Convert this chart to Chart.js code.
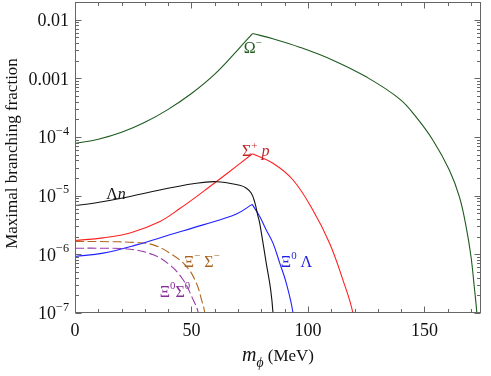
<!DOCTYPE html>
<html>
<head>
<meta charset="utf-8">
<title>Maximal branching fraction</title>
<script src="https://cdn.jsdelivr.net/npm/chart.js@4"></script>
<style>
  body { margin: 0; background: #fff; }
</style>
</head>
<body>
<canvas id="chart" width="491" height="376"></canvas>
<script>
// m_phi (MeV) and branching fraction
const omegaUpX = [0, 10, 20, 30, 40, 50, 60, 70, 76.2];
const omegaUpY = [7.78e-5, 9.14e-5, 1.2e-4, 1.78e-4, 2.96e-4, 5.51e-4, 1.18e-3, 3.1e-3, 5.8e-3];
const omegaDownX = [76.2, 85, 96.4, 110.7, 125, 139.3, 146.4, 153.6, 160.7, 165, 167.9, 170, 171.4, 172.5, 172.7];
const omegaDownY = [5.8e-3, 4.72e-3, 3.4e-3, 2.04e-3, 1.06e-3, 4.47e-4, 2.2e-4, 8.9e-5, 2.74e-5, 9.6e-6, 2.97e-6, 9.2e-7, 2.83e-7, 1e-7, 5e-8];

const lambdaNX = [0, 7.9, 22.1, 36.4, 50.7, 60.7, 70.7, 73.6, 75.7, 77.1, 78.6, 79.3, 82.1, 84, 85, 85.2];
const lambdaNY = [6.8e-6, 7.43e-6, 9.4e-6, 1.25e-5, 1.6e-5, 1.73e-5, 1.5e-5, 1.34e-5, 1.1e-5, 7.9e-6, 4.4e-6, 3.4e-6, 7.1e-7, 2.5e-7, 1e-7, 5e-8];

const sigmaPUpX = [0, 12, 24, 36, 45, 55, 65, 76.2];
const sigmaPUpY = [1.72e-6, 1.91e-6, 2.34e-6, 3.55e-6, 6.03e-6, 1.17e-5, 2.34e-5, 5.19e-5];
const sigmaPDownX = [76.2, 85, 93.6, 102.1, 109.3, 115, 119.3, 119.5];
const sigmaPDownY = [5.19e-5, 3.56e-5, 1.85e-5, 5.71e-6, 1.55e-6, 3.68e-7, 1e-7, 5e-8];

const xiLambdaUpX = [0, 12.1, 26.4, 40.7, 55, 69.3, 76.1];
const xiLambdaUpY = [9.2e-7, 1.05e-6, 1.45e-6, 2.15e-6, 3.18e-6, 4.89e-6, 7.1e-6];
const xiLambdaDownX = [76.1, 79.3, 82.1, 85, 87.9, 90.7, 93.6, 93.8];
const xiLambdaDownY = [7.1e-6, 4.4e-6, 2.61e-6, 1.55e-6, 7.1e-7, 3.24e-7, 1e-7, 5e-8];

const xiMSigmaMX = [0, 10.7, 26.4, 33.6, 40.7, 47.9, 52.1, 54.3, 55.7, 55.9];
const xiMSigmaMY = [1.65e-6, 1.65e-6, 1.59e-6, 1.45e-6, 1.05e-6, 6.2e-7, 3.24e-7, 1.69e-7, 1e-7, 5e-8];

const xi0Sigma0X = [0, 10.7, 23.6, 33.6, 40.7, 46.4, 50.7, 52.9, 53.1];
const xi0Sigma0Y = [1.27e-6, 1.27e-6, 1.22e-6, 9.8e-7, 6.6e-7, 3.68e-7, 1.69e-7, 1e-7, 5e-8];

// curve labels: parts ('^' superscript, '_' subscript, '*' italic), position in data units
const labelParts = [['Ω', '^−'], ['Σ', '^+', ' ', '*p'], ['Λ', '*n'], ['Ξ', '^0', ' Λ'], ['Ξ', '^−', ' Σ', '^−'], ['Ξ', '^0', 'Σ', '^0']];
const labelX = [76.3, 77.6, 17.6, 95.1, 54.4, 42.9];
const labelY = [3.4e-3, 5.97e-5, 1.11e-5, 7.76e-7, 7.76e-7, 2.4e-7];
const labelColors = ['#1e5a1e', '#c0282a', '#111', '#1f1fe0', '#a8641e', '#8a2a9a'];

const xTicks = [0, 50, 100, 150];
const yTicks = [1e-2, 1e-3, 1e-4, 1e-5, 1e-6, 1e-7];
const yTickLabels = [['0.01'], ['0.001'], ['10', '^−4'], ['10', '^−5'], ['10', '^−6'], ['10', '^−7']];

const serif = '"Liberation Serif", "Times New Roman", serif';

function pts(xs, ys) {
    return xs.map((x, i) => ({x: x, y: ys[i]}));
}

// draw text made of parts, returns width
function richText(ctx, parts, x, y, size, align, draw) {
    let w = 0;
    const pieces = parts.map(p => {
        let t = p, sup = false, sub = false, it = false;
        while (t.length > 1 && '^_*'.includes(t[0])) {
            if (t[0] === '^') sup = true;
            if (t[0] === '_') sub = true;
            if (t[0] === '*') it = true;
            t = t.slice(1);
        }
        const fs = (sup || sub) ? size * 0.68 : size;
        const font = (it ? 'italic ' : '') + fs + 'px ' + serif;
        ctx.font = font;
        const pw = ctx.measureText(t).width;
        w += pw;
        return {t, font, pw, dy: sup ? -size * 0.4 : (sub ? size * 0.3 : 0)};
    });
    if (draw === false) return w;
    let cx = align === 'right' ? x - w : (align === 'center' ? x - w / 2 : x);
    ctx.textAlign = 'left';
    pieces.forEach(p => {
        ctx.font = p.font;
        ctx.fillText(p.t, cx, y + p.dy);
        cx += p.pw;
    });
    return w;
}

const framePlugin = {
    id: 'frame',
    afterDraw(chart) {
        const ctx = chart.ctx;
        const a = chart.chartArea;
        const xs = chart.scales.x, ys = chart.scales.y;
        ctx.save();
        ctx.strokeStyle = '#666';
        ctx.lineWidth = 1;
        const L = Math.round(a.left) + 0.5, R = Math.round(a.right) - 0.5;
        const T = Math.round(a.top) + 0.5, B = Math.round(a.bottom) - 0.5;
        ctx.strokeRect(L, T, R - L, B - T);

        ctx.beginPath();
        for (let v = 0; v <= xs.max; v += 10) {
            const px = Math.round(xs.getPixelForValue(v)) + 0.5;
            const len = v % 50 === 0 ? 6 : 3.5;
            ctx.moveTo(px, B); ctx.lineTo(px, B - len);
            ctx.moveTo(px, T); ctx.lineTo(px, T + len);
        }
        for (let d = -7; d <= -2; d++) {
            for (let k = 1; k <= 9; k++) {
                const v = k * Math.pow(10, d);
                if (v > ys.max) break;
                const py = Math.round(ys.getPixelForValue(v)) + 0.5;
                const len = k === 1 ? 6 : 3.5;
                ctx.moveTo(L, py); ctx.lineTo(L + len, py);
                ctx.moveTo(R, py); ctx.lineTo(R - len, py);
            }
        }
        ctx.stroke();

        ctx.fillStyle = '#111';
        ctx.textBaseline = 'middle';
        yTicks.forEach((v, i) => {
            const py = ys.getPixelForValue(v);
            richText(ctx, yTickLabels[i], a.left - 6, py + 1.5, 18, 'right');
        });
        xTicks.forEach(v => {
            ctx.font = '18px ' + serif;
            ctx.textAlign = 'center';
            ctx.fillText(String(v), xs.getPixelForValue(v), a.bottom + 18);
        });

        // axis titles
        ctx.textBaseline = 'alphabetic';
        const xw = richText(ctx, ['*m', '_*ϕ'], 0, 0, 20, 'left', false) + richText(ctx, [' (MeV)'], 0, 0, 17, 'left', false);
        const x0 = (a.left + a.right) / 2 - xw / 2;
        const w1 = richText(ctx, ['*m', '_*ϕ'], x0, 361, 20, 'left');
        richText(ctx, [' (MeV)'], x0 + w1, 361, 17, 'left');

        ctx.save();
        ctx.translate(17, (a.top + a.bottom) / 2 - 4);
        ctx.rotate(-Math.PI / 2);
        ctx.font = '17px ' + serif;
        ctx.textAlign = 'center';
        ctx.fillText('Maximal branching fraction', 0, 0);
        ctx.restore();

        // curve labels
        ctx.textBaseline = 'middle';
        labelParts.forEach((parts, i) => {
            ctx.fillStyle = labelColors[i];
            richText(ctx, parts, xs.getPixelForValue(labelX[i]), ys.getPixelForValue(labelY[i]) + 2, 16, 'center');
        });
        ctx.restore();
    }
};

function line(data, color, dash) {
    return {
        data: data,
        borderColor: color,
        borderWidth: 1.1,
        borderDash: dash || [],
        pointRadius: 0,
        fill: false,
        tension: 0.4
    };
}

const green = '#1e5a1e', red = '#ff2020', blue = '#2020ff', black = '#111111';
const brown = '#b0661e', purple = '#9a3aaa';

new Chart(document.getElementById('chart'), {
    type: 'line',
    data: {
        datasets: [
            line(pts(omegaUpX, omegaUpY), green),
            line(pts(omegaDownX, omegaDownY), green),
            line(pts(lambdaNX, lambdaNY), black),
            line(pts(sigmaPUpX, sigmaPUpY), red),
            line(pts(sigmaPDownX, sigmaPDownY), red),
            line(pts(xiLambdaUpX, xiLambdaUpY), blue),
            line(pts(xiLambdaDownX, xiLambdaDownY), blue),
            line(pts(xiMSigmaMX, xiMSigmaMY), brown, [9, 3.5]),
            line(pts(xi0Sigma0X, xi0Sigma0Y), purple, [9, 3.5])
        ]
    },
    options: {
        responsive: false,
        animation: false,
        layout: {padding: {left: 75, right: 10, top: 2, bottom: 63}},
        plugins: {legend: {display: false}, tooltip: {enabled: false}},
        scales: {
            x: {
                type: 'linear', min: 0, max: 174.3,
                ticks: {display: false}, grid: {display: false}, border: {display: false},
                afterFit: s => { s.height = 0; }
            },
            y: {
                type: 'logarithmic', min: 1e-7, max: 0.02,
                ticks: {display: false}, grid: {display: false}, border: {display: false},
                afterFit: s => { s.width = 0; }
            }
        }
    },
    plugins: [framePlugin]
});
</script>
</body>
</html>
